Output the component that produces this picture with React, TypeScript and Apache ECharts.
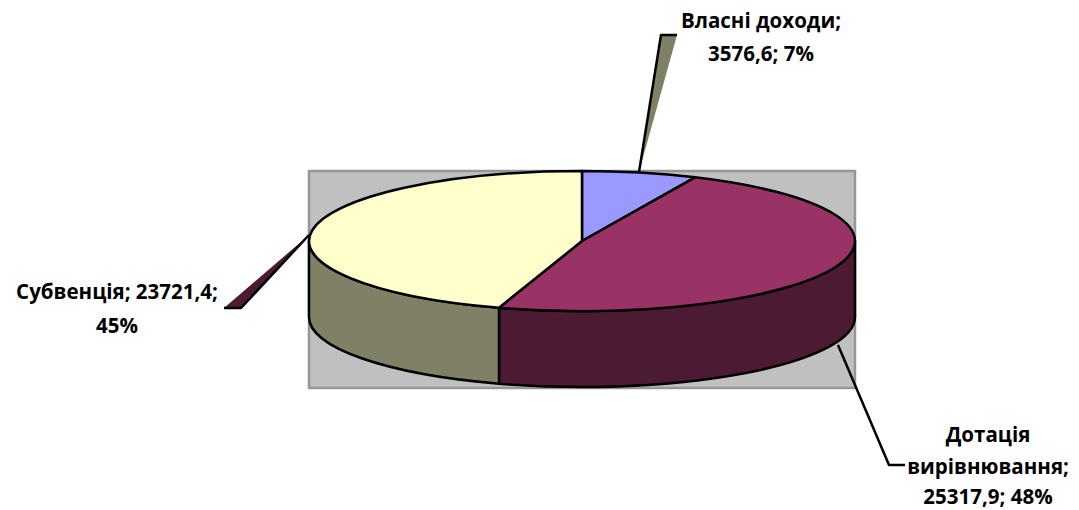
import React, { useEffect, useRef } from "react";
import * as echarts from "echarts";

const categories = ["Власні доходи", "Дотація вирівнювання", "Субвенція"];
const values = [3576.6, 25317.9, 23721.4];
const labelLines = [
  ["Власні доходи;", "3576,6; 7%"],
  ["Дотація", "вирівнювання;", "25317,9; 48%"],
  ["Субвенція; 23721,4;", "45%"],
];
const topColors = ["#9999FF", "#993366", "#FFFFCC"];
const sideColors = ["#4D4D80", "#4D1A33", "#808066"];

const CX = 582, CY = 241, RX = 273, RY = 70, DEPTH = 76;
const FONT = 'bold 20.5px "Open Sans", "Noto Sans", sans-serif';
const labelX = [761, 988, 117];
const labelY = [
  [20, 53],
  [434, 466, 496],
  [291, 325],
];
const wedges = [
  { fill: [[661, 35], [677, 35], [639, 172]], line: [[677, 35], [661, 35], [639, 172]], color: sideColors[2] },
  { fill: null, line: [[838, 345], [889, 465], [905, 465]], color: null },
  { fill: [[224, 308], [241, 308], [309, 235]], line: [[224, 308], [241, 308], [309, 235]], color: sideColors[1] },
];

const total = values.reduce((a, b) => a + b, 0);
const pt = (deg: number, dy = 0): [number, number] => {
  const r = (deg * Math.PI) / 180;
  return [CX + RX * Math.sin(r), CY - RY * Math.cos(r) + dy];
};

function renderItem(params: any, api: any) {
  const i = params.dataIndex;
  let start = 0;
  for (let k = 0; k < i; k++) start += (values[k] / total) * 360;
  const end = start + (api.value(0) / total) * 360;
  const children: any[] = [];
  const stroke = { stroke: "#000", lineWidth: 2.5, lineJoin: "round" };

  const a0 = Math.max(start, 90);
  const a1 = Math.min(end, 270);
  if (a1 > a0) {
    const p0 = pt(a0), p1 = pt(a1), q1 = pt(a1, DEPTH), q0 = pt(a0, DEPTH);
    children.push({
      type: "path",
      shape: {
        pathData: `M${p0[0]} ${p0[1]}A${RX} ${RY} 0 0 1 ${p1[0]} ${p1[1]}L${q1[0]} ${q1[1]}A${RX} ${RY} 0 0 0 ${q0[0]} ${q0[1]}Z`,
      },
      style: { fill: sideColors[i], ...stroke },
    });
  }

  const s = pt(start), e = pt(end);
  children.push({
    type: "path",
    shape: {
      pathData: `M${CX} ${CY}L${s[0]} ${s[1]}A${RX} ${RY} 0 ${end - start > 180 ? 1 : 0} 1 ${e[0]} ${e[1]}Z`,
    },
    style: { fill: topColors[i], ...stroke },
  });

  const w = wedges[i];
  if (w.fill) {
    children.push({ type: "polygon", shape: { points: w.fill }, style: { fill: w.color } });
  }
  children.push({
    type: "polyline",
    shape: { points: w.line },
    style: { fill: "none", ...stroke },
  });

  labelLines[i].forEach((line, n) => {
    children.push({
      type: "text",
      style: {
        x: labelX[i],
        y: labelY[i][n],
        text: line,
        font: FONT,
        fill: "#000",
        align: "center",
        verticalAlign: "middle",
      },
    });
  });
  return { type: "group", children };
}

export default function App() {
  const ref = useRef<HTMLDivElement>(null);
  useEffect(() => {
    const chart = echarts.init(ref.current!, null, { renderer: "svg" });
    chart.setOption({
      animation: false,
      backgroundColor: "#fff",
      graphic: [
        {
          type: "rect",
          z: -1,
          shape: { x: 309, y: 171, width: 546, height: 217 },
          style: { fill: "#C0C0C0", stroke: "#969696", lineWidth: 2.5 },
        },
      ],
      series: [
        {
          type: "custom",
          coordinateSystem: "none",
          renderItem,
          z: 5,
          data: values.map((v, i) => ({ name: categories[i], value: [v] })),
        },
      ],
    });
    return () => chart.dispose();
  }, []);
  return <div ref={ref} style={{ position: "absolute", left: 0, top: 0, width: 1079, height: 510 }} />;
}
